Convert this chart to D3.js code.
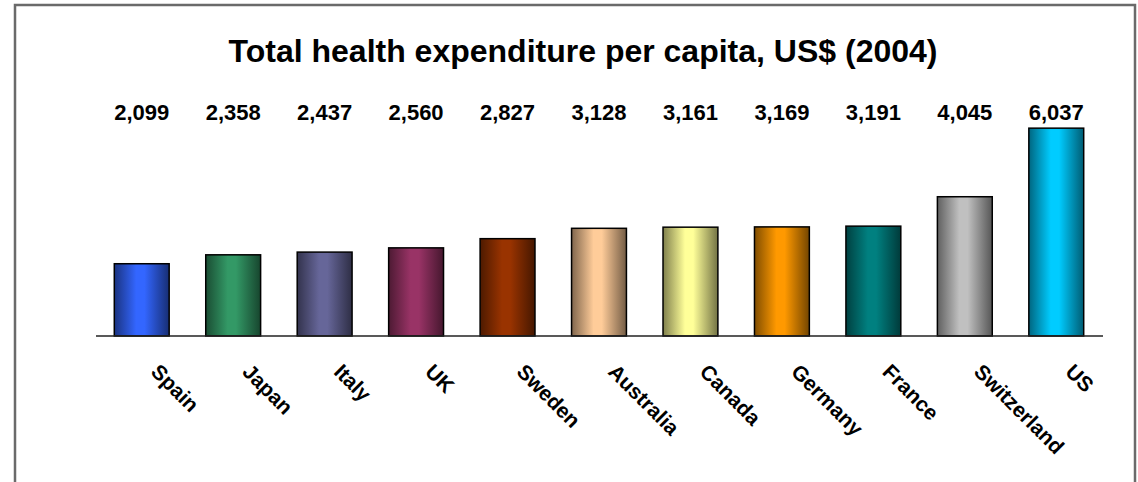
<!DOCTYPE html>
<html>
<head>
<meta charset="utf-8">
<script src="https://cdn.jsdelivr.net/npm/d3@7/dist/d3.min.js"></script>
<style>
  html, body { margin: 0; padding: 0; background: #fff; }
  svg { display: block; font-family: Arial, "Liberation Sans", sans-serif; }
</style>
</head>
<body>
<svg id="chart" width="1138" height="482"></svg>
<script>
// Health spending per person, 2004 (US$)
const countries = ["Spain", "Japan", "Italy", "UK", "Sweden", "Australia", "Canada", "Germany", "France", "Switzerland", "US"];
const spending = [2099, 2358, 2437, 2560, 2827, 3128, 3161, 3169, 3191, 4045, 6037];
const barColors = ["#3366FF", "#339966", "#666699", "#993366", "#993300", "#FFCC99", "#FFFF99", "#FF9900", "#008080", "#C0C0C0", "#00CCFF"];
const titleText = "Total health expenditure per capita, US$ (2004)";

const svg = d3.select("#chart");

// outer frame
svg.append("rect")
  .attr("x", 15).attr("y", 5)
  .attr("width", 1120).attr("height", 500)
  .attr("fill", "#fff")
  .attr("stroke", "#6a6a6a")
  .attr("stroke-width", 2.5);

const x = d3.scaleBand()
  .domain(countries)
  .range([96, 1102])
  .paddingInner(0.4)
  .paddingOuter(0.2);

const y = d3.scaleLinear()
  .domain([0, 7000])
  .range([336, 95]);

// cylinder-style shading per bar
const defs = svg.append("defs");
barColors.forEach((c, i) => {
  const g = defs.append("linearGradient")
    .attr("id", "shade" + i)
    .attr("x1", "0%").attr("x2", "100%").attr("y1", "0%").attr("y2", "0%");
  const base = d3.rgb(c);
  const dark = d3.interpolateRgb(base, "#000")(0.5);
  const dark2 = d3.interpolateRgb(base, "#000")(0.55);
  g.append("stop").attr("offset", "0%").attr("stop-color", dark);
  g.append("stop").attr("offset", "40%").attr("stop-color", base.formatHex());
  g.append("stop").attr("offset", "55%").attr("stop-color", base.formatHex());
  g.append("stop").attr("offset", "100%").attr("stop-color", dark2);
});

// title
svg.append("text")
  .attr("x", 583).attr("y", 62)
  .attr("text-anchor", "middle")
  .attr("font-size", 32)
  .attr("font-weight", "bold")
  .attr("fill", "#000")
  .text(titleText);

// bars
svg.append("g").selectAll("rect")
  .data(countries)
  .join("rect")
  .attr("x", d => x(d))
  .attr("y", (d, i) => y(spending[i]))
  .attr("width", x.bandwidth())
  .attr("height", (d, i) => y(0) - y(spending[i]))
  .attr("fill", (d, i) => `url(#shade${i})`)
  .attr("stroke", "#000")
  .attr("stroke-width", 1.5);

// baseline
svg.append("line")
  .attr("x1", 96).attr("x2", 1103)
  .attr("y1", y(0)).attr("y2", y(0))
  .attr("stroke", "#222")
  .attr("stroke-width", 1.5);

// value labels above the plot
svg.append("g").selectAll("text")
  .data(countries)
  .join("text")
  .attr("x", d => x(d) + x.bandwidth() / 2)
  .attr("y", 120)
  .attr("text-anchor", "middle")
  .attr("font-size", 22)
  .attr("font-weight", "bold")
  .text((d, i) => d3.format(",")(spending[i]));

// rotated category labels
svg.append("g").selectAll("text")
  .data(countries)
  .join("text")
  .attr("transform", d => `translate(${x(d) + x.bandwidth() / 2 + 8},373) rotate(45)`)
  .attr("text-anchor", "start")
  .attr("font-size", 21)
  .attr("font-weight", "bold")
  .text(d => d);
</script>
</body>
</html>
